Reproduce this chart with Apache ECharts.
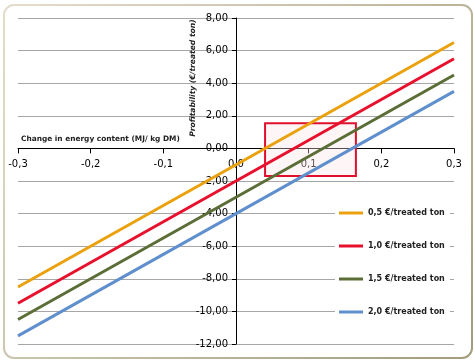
<!DOCTYPE html>
<html>
<head>
<meta charset="utf-8">
<script src="https://cdn.jsdelivr.net/npm/echarts@6/dist/echarts.min.js"></script>
<style>html,body{margin:0;padding:0;background:#fff;}#c{width:475px;height:363px;}</style>
</head>
<body>
<div id="c"></div>
<script>
var xValues = [-0.3, -0.2, -0.1, 0, 0.1, 0.2, 0.3];
var seriesNames = ['0,5 €/treated ton', '1,0 €/treated ton', '1,5 €/treated ton', '2,0 €/treated ton'];
var s05 = [-8.5, -6.0, -3.5, -1.0, 1.5, 4.0, 6.5];
var s10 = [-9.5, -7.0, -4.5, -2.0, 0.5, 3.0, 5.5];
var s15 = [-10.5, -8.0, -5.5, -3.0, -0.5, 2.0, 4.5];
var s20 = [-11.5, -9.0, -6.5, -4.0, -1.5, 1.0, 3.5];
var colors = ['#eba10c', '#e8112d', '#5b6e37', '#5f8fcd'];
var boxX = [0.04, 0.165];
var boxY = [-1.7, 1.55];
var xTitle = 'Change in energy content (MJ/ kg DM)';
var yTitle = 'Profitability (€/treated ton)';

var font = 'DejaVu Sans';
function pairs(vals){ return xValues.map(function(x,i){ return [x, vals[i]]; }); }
var allVals = [s05, s10, s15, s20];
var series = allVals.map(function(v,i){
  return {
    name: seriesNames[i], type: 'line', data: pairs(v), symbol: 'none', showSymbol: false,
    lineStyle: { color: colors[i], width: 3 }, itemStyle: { color: colors[i] },
    z: 2
  };
});
series.push({
  type: 'line', data: [], z: 5, silent: true,
  markArea: {
    silent: true,
    itemStyle: { color: 'rgba(252,228,230,0.35)', borderColor: '#e0102c', borderWidth: 2 },
    data: [[{ coord: [boxX[0], boxY[1]] }, { coord: [boxX[1], boxY[0]] }]]
  }
});

var GL = 18, GT = 18, GR = 21, GB = 19;
var chart = echarts.init(document.getElementById('c'));
chart.setOption({
  animation: false,
  backgroundColor: '#fff',
  grid: { left: GL, right: GR, top: GT, bottom: GB, containLabel: false, outerBoundsMode: 'none' },
  xAxis: {
    type: 'value', min: -0.3, max: 0.3, interval: 0.1, position: 'bottom',
    axisLine: { onZero: false, lineStyle: { color: '#000', width: 1 } },
    axisTick: { show: true, length: 5, lineStyle: { color: '#000' } },
    splitLine: { show: false },
    axisLabel: {
      color: '#000', fontSize: 10, fontFamily: font, margin: 11,
      formatter: function(v){ return (Math.abs(v) < 1e-9 ? '0,0' : (Math.round(v*10)/10).toString().replace('.', ',')); }
    }
  },
  yAxis: {
    type: 'value', min: -12, max: 8, interval: 2, position: 'left',
    axisLine: { onZero: false, lineStyle: { color: '#000', width: 1 } },
    axisTick: { show: true, length: 4, lineStyle: { color: '#000' } },
    splitLine: { show: true, lineStyle: { color: '#a6a6a6', width: 1 } },
    axisLabel: {
      color: '#000', fontSize: 10, fontFamily: font, margin: 8,
      formatter: function(v){ return v.toFixed(2).replace('.', ','); }
    }
  },
  legend: {
    orient: 'vertical', left: 335, top: 207,
    data: seriesNames,
    backgroundColor: '#fff',
    padding: [0, 5, 0, 4],
    icon: 'rect',
    itemGap: 21, itemWidth: 24, itemHeight: 3,
    textStyle: { fontSize: 8, fontWeight: 'bold', fontFamily: font, color: '#222', lineHeight: 12 }
  },
  graphic: [
    {
      type: 'rect', silent: true, z: 100,
      shape: { x: 4, y: 5, width: 468, height: 353, r: 10 },
      style: {
        fill: 'none', lineWidth: 2,
        stroke: new echarts.graphic.LinearGradient(0, 0, 1, 1, [
          { offset: 0, color: '#e4ddcc' }, { offset: 1, color: '#a29c7c' }
        ])
      }
    },
    {
      type: 'text', left: 21, top: 136, z: 50,
      style: { text: xTitle, font: 'bold 7.4px "DejaVu Sans"', fill: '#222' }
    },
    {
      type: 'text', x: 193, y: 78, rotation: Math.PI / 2, z: 50,
      style: { text: yTitle, font: 'italic bold 7.6px "DejaVu Sans"', fill: '#222', align: 'center', verticalAlign: 'middle' }
    }
  ],
  series: series
});
// move both axes (line, ticks and labels) so they cross at the origin
var origin = chart.convertToPixel({ gridIndex: 0 }, [0, 0]);
var H = chart.getHeight();
chart.setOption({
  xAxis: { offset: -((H - GB) - origin[1]) },
  yAxis: { offset: -(origin[0] - GL) }
});
</script>
</body>
</html>
